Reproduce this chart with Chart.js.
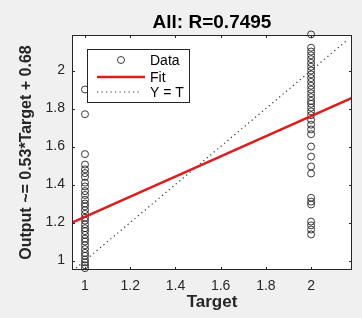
<!DOCTYPE html>
<html><head><meta charset="utf-8">
<script src="https://cdn.jsdelivr.net/npm/chart.js@4"></script>
<style>html,body{margin:0;padding:0;background:#f0f0f0;}#wrap{width:362px;height:318px;}</style>
</head><body><div id="wrap"><canvas id="c" width="362" height="318"></canvas></div>
<script>
const titleText = "All: R=0.7495";
const xLabel = "Target";
const yLabel = "Output ~= 0.53*Target + 0.68";
const legendNames = ["Data", "Fit", "Y = T"];
const xTickValues = [1, 1.2, 1.4, 1.6, 1.8, 2];
const xTickLabels = ["1", "1.2", "1.4", "1.6", "1.8", "2"];
const yTickValues = [1, 1.2, 1.4, 1.6, 1.8, 2];
const yTickLabels = ["1", "1.2", "1.4", "1.6", "1.8", "2"];
const xRange = [0.9425, 2.181];
const yRange = [0.95, 2.187];
const targetLevels = [1, 2];
const outputsTarget1 = [1.9, 1.77, 1.56, 1.505, 1.48, 1.46, 1.44, 1.41, 1.39, 1.365, 1.345, 1.32, 1.3,
  1.285, 1.265, 1.245, 1.225, 1.21, 1.19, 1.17, 1.155, 1.135, 1.115, 1.1, 1.08, 1.06, 1.04, 1.025,
  1.005, 0.99, 0.975, 0.96];
const outputsTarget2 = [2.19, 2.12, 2.10, 2.08, 2.06, 2.04, 2.02, 2.0, 1.98, 1.96, 1.94, 1.92, 1.9,
  1.88, 1.86, 1.84, 1.825, 1.805, 1.785, 1.765, 1.74, 1.715, 1.69, 1.665, 1.6, 1.547, 1.495, 1.458,
  1.33, 1.31, 1.295, 1.205, 1.185, 1.163, 1.137];
const fitX = [0.9425, 2.181];
const fitY = [1.2, 1.856];
const identityX = [0.96, 2.16];
const identityY = [0.96, 2.16];

const dataPoints = [];
outputsTarget1.forEach(v => dataPoints.push({x: targetLevels[0], y: v}));
outputsTarget2.forEach(v => dataPoints.push({x: targetLevels[1], y: v}));
const fitPoints = fitX.map((x, i) => ({x, y: fitY[i]}));
const idPoints = identityX.map((x, i) => ({x, y: identityY[i]}));

const FONT = '"Liberation Sans", Arial, Helvetica, sans-serif';
const AXC = '#262626';
const RED = '#e01b1b';
const MARK = 'rgba(25,25,25,0.85)';

const decor = {
  id: 'decor',
  beforeDraw(chart) {
    const ctx = chart.ctx, a = chart.chartArea;
    ctx.save();
    ctx.fillStyle = '#f0f0f0';
    ctx.fillRect(0, 0, chart.width, chart.height);
    ctx.fillStyle = '#ffffff';
    ctx.fillRect(a.left, a.top, a.right - a.left, a.bottom - a.top);
    ctx.restore();
  },
  afterDraw(chart) {
    const ctx = chart.ctx, a = chart.chartArea;
    const xs = chart.scales.x, ys = chart.scales.y;
    ctx.save();
    ctx.strokeStyle = AXC;
    ctx.lineWidth = 1;
    ctx.strokeRect(a.left + 0.5, a.top + 0.5, a.right - a.left - 1, a.bottom - a.top - 1);
    const tl = 3;
    ctx.beginPath();
    xTickValues.forEach(v => {
      const p = Math.round(xs.getPixelForValue(v)) + 0.5;
      ctx.moveTo(p, a.bottom); ctx.lineTo(p, a.bottom - tl);
      ctx.moveTo(p, a.top); ctx.lineTo(p, a.top + tl);
    });
    yTickValues.forEach(v => {
      const p = Math.round(ys.getPixelForValue(v)) + 0.5;
      ctx.moveTo(a.left, p); ctx.lineTo(a.left + tl, p);
      ctx.moveTo(a.right, p); ctx.lineTo(a.right - tl, p);
    });
    ctx.stroke();
    ctx.fillStyle = '#000';
    ctx.textAlign = 'center';
    ctx.textBaseline = 'middle';
    ctx.font = 'bold 19px ' + FONT;
    ctx.fillText(titleText, (a.left + a.right) / 2, 23);
    ctx.font = 'bold 17px ' + FONT;
    ctx.fillStyle = AXC;
    ctx.fillText(xLabel, (a.left + a.right) / 2, 302);
    ctx.save();
    ctx.translate(27, (a.top + a.bottom) / 2);
    ctx.rotate(-Math.PI / 2);
    ctx.font = 'bold 16px ' + FONT;
    ctx.fillText(yLabel, 0, 0);
    ctx.restore();
    const lx = 87, ly = 49, lw = 103, lh = 54;
    ctx.fillStyle = '#fff';
    ctx.fillRect(lx, ly, lw, lh);
    ctx.strokeStyle = AXC;
    ctx.lineWidth = 1;
    ctx.strokeRect(lx + 0.5, ly + 0.5, lw - 1, lh - 1);
    const rows = [60, 77, 92];
    ctx.beginPath();
    ctx.strokeStyle = MARK;
    ctx.arc(121, rows[0], 3.5, 0, Math.PI * 2);
    ctx.stroke();
    ctx.beginPath();
    ctx.strokeStyle = RED;
    ctx.lineWidth = 2.5;
    ctx.moveTo(97, rows[1]); ctx.lineTo(145, rows[1]);
    ctx.stroke();
    ctx.beginPath();
    ctx.strokeStyle = '#333';
    ctx.lineWidth = 1.2;
    ctx.setLineDash([1.2, 3.3]);
    ctx.moveTo(97, rows[2]); ctx.lineTo(142, rows[2]);
    ctx.stroke();
    ctx.setLineDash([]);
    ctx.fillStyle = '#000';
    ctx.textAlign = 'left';
    ctx.font = '14px ' + FONT;
    legendNames.forEach((n, i) => ctx.fillText(n, 150, rows[i] + 1));
    ctx.restore();
  }
};

new Chart(document.getElementById('c'), {
  type: 'scatter',
  data: {
    datasets: [
      {label: legendNames[1], type: 'line', data: fitPoints, borderColor: RED, borderWidth: 2.5,
        pointRadius: 0, fill: false, order: 0},
      {label: legendNames[2], type: 'line', data: idPoints, borderColor: '#333', borderWidth: 1.2,
        borderDash: [1.2, 3.3], pointRadius: 0, fill: false, order: 1},
      {label: legendNames[0], data: dataPoints, pointStyle: 'circle', pointRadius: 3.5,
        pointBorderWidth: 1, borderColor: MARK, backgroundColor: 'rgba(0,0,0,0)', clip: false, order: 2}
    ]
  },
  options: {
    responsive: false,
    devicePixelRatio: 1,
    animation: false,
    events: [],
    layout: {padding: {left: 0, top: 35, right: 10, bottom: 0}},
    plugins: {legend: {display: false}, title: {display: false}, tooltip: {enabled: false}},
    scales: {
      x: {
        type: 'linear', min: xRange[0], max: xRange[1],
        grid: {display: false, drawTicks: false}, border: {display: false},
        afterBuildTicks: s => { s.ticks = xTickValues.map(v => ({value: v})); },
        afterFit: s => { s.height = 48; },
        ticks: {padding: 8, color: AXC, font: {family: FONT, size: 14},
          callback: (v) => { const i = xTickValues.indexOf(v); return i >= 0 ? xTickLabels[i] : ''; }}
      },
      y: {
        type: 'linear', min: yRange[0], max: yRange[1],
        grid: {display: false, drawTicks: false}, border: {display: false},
        afterBuildTicks: s => { s.ticks = yTickValues.map(v => ({value: v})); },
        afterFit: s => { s.width = 72; },
        ticks: {padding: 7, color: AXC, font: {family: FONT, size: 14},
          callback: (v) => { const i = yTickValues.indexOf(v); return i >= 0 ? yTickLabels[i] : ''; }}
      }
    }
  },
  plugins: [decor]
});
</script></body></html>
